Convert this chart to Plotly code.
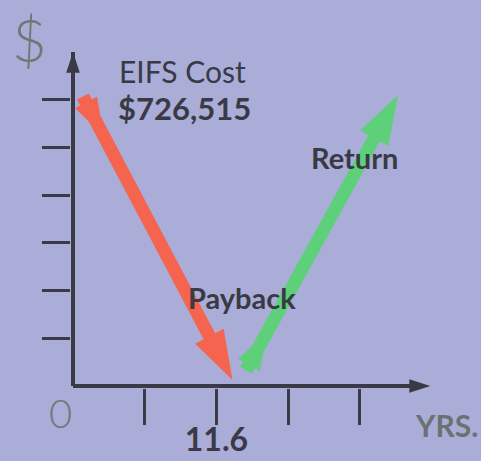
import plotly.graph_objects as go

# ---------------- data ----------------
EIFS_COST = 726515
DOLLARS_PER_TICK = EIFS_COST / 6
YEARS_PER_TICK = 5.8
PAYBACK = "11.6"

x_tick_vals = [5.8, 11.6, 17.4, 23.2]
x_tick_text = ["", PAYBACK, "", ""]
y_tick_vals = [DOLLARS_PER_TICK * k for k in range(1, 7)]

cost_x = [0.8, 12.9]          # red arrow: tail -> head (years)
cost_y = [735000, 15000]      # dollars
return_x = [14.0, 26.3]       # green arrow: tail -> head
return_y = [40000, 739000]

x_axis_end = 28.9
y_axis_end = 848000

# ---------------- layout geometry ----------------
W, H = 481, 461
L, B = 71, 73
PW, PH = W - L, H - B
PX_PER_TICK_X = 71.7
PX_PER_TICK_Y = 47.7
x0 = -2 / PX_PER_TICK_X * YEARS_PER_TICK
x1 = x0 + PW / PX_PER_TICK_X * YEARS_PER_TICK
y0 = -2 / PX_PER_TICK_Y * DOLLARS_PER_TICK
y1 = y0 + PH / PX_PER_TICK_Y * DOLLARS_PER_TICK

BG = "#A9ADD8"
AX = "#3A3A46"
RED = "#F4644E"
GREEN = "#5ED07A"


def px2paper(px, py):
    return (px - L) / PW, (H - B - py) / PH


def arrow_points(xs, ys, f=0.14):
    fx = xs[0] + f * (xs[1] - xs[0])
    fy = ys[0] + f * (ys[1] - ys[0])
    return [xs[0], fx, xs[1]], [ys[0], fy, ys[1]]


fig = go.Figure()

# axes drawn as arrows
for xs, ys in [([0, 0], [0, y_axis_end]), ([0, x_axis_end], [0, 0])]:
    fig.add_trace(go.Scatter(
        x=xs, y=ys, mode="lines+markers", cliponaxis=False,
        line=dict(color=AX, width=4),
        marker=dict(symbol="arrow", size=[0, 22], color=AX, opacity=1,
                    angleref="previous", line=dict(width=0)),
        hoverinfo="skip", showlegend=False))

for xs, ys, col in [(cost_x, cost_y, RED), (return_x, return_y, GREEN)]:
    ax_, ay_ = arrow_points(xs, ys)
    fig.add_trace(go.Scatter(
        x=ax_, y=ay_, mode="lines+markers", cliponaxis=False,
        line=dict(color=col, width=13),
        marker=dict(symbol="arrow", size=[0, 40, 52], color=col, opacity=1,
                    angleref="previous", line=dict(width=0)),
        hoverinfo="skip", showlegend=False))

annots = [
    ("$", 29, 39, 60, "#6F7873", "Lato Light", False),
    ("0", 60, 413, 40, "#707878", "Lato Light", False),
    ("YRS.", 446, 425, 30, "#6C7272", "Lato", True),
    ("EIFS Cost", 182, 71, 30, "#3A3A44", "Lato", False),
    ("$726,515", 184, 108, 31, "#3A3A44", "Lato", True),
    ("Payback", 242, 297, 29, "#3A3A44", "Lato", True),
    ("Return", 354, 157, 29, "#3A3A44", "Lato", True),
]
for text, px, py, size, color, fam, bold in annots:
    xp, yp = px2paper(px, py)
    fig.add_annotation(
        x=xp, y=yp, xref="paper", yref="paper", showarrow=False,
        text=f"<b>{text}</b>" if bold else text,
        font=dict(size=size, color=color, family=fam),
        xanchor="center", yanchor="middle")

fig.update_layout(
    width=W, height=H,
    margin=dict(l=L, r=0, t=0, b=B, pad=0, autoexpand=False),
    paper_bgcolor=BG, plot_bgcolor=BG,
    showlegend=False,
    xaxis=dict(range=[x0, x1], showgrid=False, zeroline=False, showline=False,
               automargin=False,
               tickmode="array", tickvals=x_tick_vals, ticktext=x_tick_text,
               ticks="outside", ticklen=36, tickwidth=3, tickcolor=AX,
               ticklabelstandoff=-12,
               tickfont=dict(family="Lato", size=32, color=AX, weight="bold"),
               fixedrange=True),
    yaxis=dict(range=[y0, y1], showgrid=False, zeroline=False, showline=False,
               automargin=False,
               tickmode="array", tickvals=y_tick_vals, showticklabels=False,
               ticks="outside", ticklen=28, tickwidth=3, tickcolor=AX,
               fixedrange=True),
)

fig.write_html("out.html", config={"displayModeBar": False},
               post_script="document.body.style.margin='0';"
                           "document.body.style.background='" + BG + "';")
